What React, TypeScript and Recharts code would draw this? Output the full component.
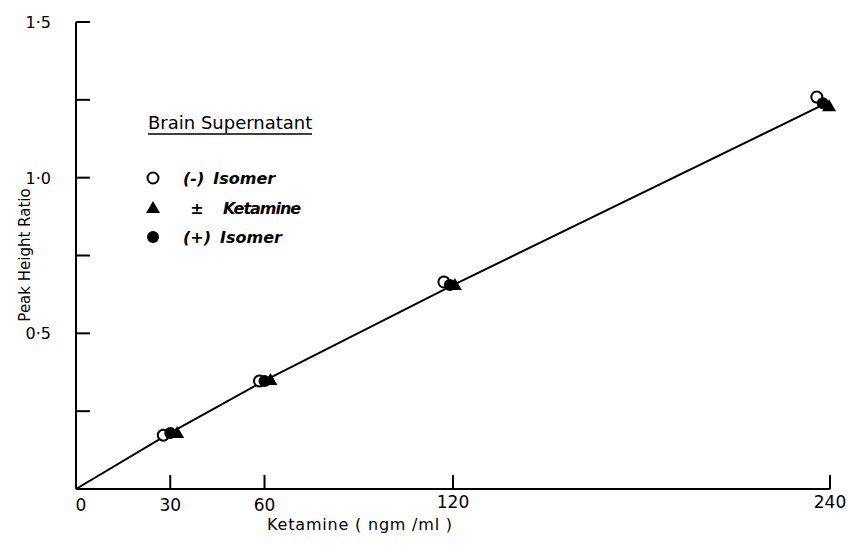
import React from 'react';
import { ScatterChart, Scatter, XAxis, YAxis, Legend } from 'recharts';

// ketamine concentration (ngm/ml) vs peak height ratio, one list per isomer
const minusX = [27.8, 58.4, 117.1, 235.8];
const minusY = [0.173, 0.347, 0.665, 1.259];
const racemicX = [32.2, 61.9, 120.6, 239.7];
const racemicY = [0.18, 0.35, 0.655, 1.229];
const plusX = [30.0, 60.0, 119.0, 237.7];
const plusY = [0.18, 0.347, 0.655, 1.239];

// calibration line, read at the origin and at each standard
const fitX = [0, 30, 60, 120, 239];
const fitY = [0, 0.18, 0.348, 0.655, 1.24];

const xTicks = [0, 30, 60, 120, 240];
const xTickLabels = ['0', '30', '60', '120', '240'];
const yTicks = [0, 0.25, 0.5, 0.75, 1.0, 1.25, 1.5];
const yTickLabels = ['', '', '0·5', '', '1·0', '', '1·5'];

const FONT = '"DejaVu Sans", sans-serif';

const toPoints = (xs: number[], ys: number[]) => xs.map((x, i) => ({ x, y: ys[i] }));

const OpenCircle = (p: any) => (
  <circle cx={p.cx} cy={p.cy} r={5.5} fill="#fff" stroke="#000" strokeWidth={2} />
);
const FilledCircle = (p: any) => <circle cx={p.cx} cy={p.cy} r={6} fill="#000" />;
const Triangle = (p: any) => (
  <polygon
    points={`${p.cx},${p.cy - 7} ${p.cx + 7},${p.cy + 5} ${p.cx - 7},${p.cy + 5}`}
    fill="#000"
  />
);
const NoDot = () => <g />;

const YTick = ({ x, y, index }: any) => (
  <g>
    <line x1={x} x2={x + 14} y1={y} y2={y} stroke="#000" strokeWidth={2} />
    <text x={x - 25} y={y + 6} textAnchor="end" fontSize={16} fontFamily={FONT} fill="#000">
      {yTickLabels[index]}
    </text>
  </g>
);

const XTick = ({ x, y, index }: any) => (
  <g>
    <line x1={x} x2={x} y1={y} y2={y - 14} stroke="#000" strokeWidth={2} />
    <text
      x={index === 0 ? x + 5 : x}
      y={y + (index >= 3 ? 19 : 22)}
      textAnchor="middle"
      fontSize={17}
      fontFamily={FONT}
      fill="#000"
    >
      {xTickLabels[index]}
    </text>
  </g>
);

const legendRows = [
  { sign: '(-)', name: 'Isomer', shape: 'open' },
  { sign: '±', name: 'Ketamine', shape: 'tri' },
  { sign: '(+)', name: 'Isomer', shape: 'filled' },
];

const LegendBox = () => (
  <svg width={240} height={160} style={{ overflow: 'visible' }}>
    <text x={8} y={32} fontSize={18} fontWeight={500} fontFamily={FONT} fill="#000">
      Brain Supernatant
    </text>
    <line x1={8} x2={172} y1={37} y2={37} stroke="#000" strokeWidth={1.5} />
    {legendRows.map((r, i) => {
      const cy = [81, 111, 140][i];
      const textProps = {
        fontSize: 16,
        fontStyle: 'italic',
        fontWeight: 'bold',
        fontFamily: FONT,
        fill: '#000',
      };
      return (
        <g key={r.sign}>
          {r.shape === 'open' && <OpenCircle cx={13} cy={cy} />}
          {r.shape === 'tri' && <Triangle cx={13} cy={cy} />}
          {r.shape === 'filled' && <FilledCircle cx={13} cy={cy} />}
          {r.shape === 'tri' ? (
            <>
              <text x={57} y={cy + 6} textAnchor="middle" {...textProps}>
                {r.sign}
              </text>
              <text x={83} y={cy + 6} letterSpacing={-1} {...textProps}>
                {r.name}
              </text>
            </>
          ) : (
            <text x={43} y={cy + 6} {...textProps}>
              {r.sign}
              <tspan dx={9}>{r.name}</tspan>
            </text>
          )}
        </g>
      );
    })}
  </svg>
);

export default function App() {
  return (
    <div style={{ position: 'absolute', left: 0, top: 0, background: '#fff' }}>
      <ScatterChart
        width={853}
        height={552}
        margin={{ top: 22, right: 23, bottom: 33, left: 36 }}
      >
        <XAxis
          type="number"
          dataKey="x"
          domain={[0, 240]}
          ticks={xTicks}
          tick={<XTick />}
          tickSize={0}
          tickMargin={0}
          tickLine={false}
          height={30}
          axisLine={{ stroke: '#000', strokeWidth: 2 }}
          label={{
            content: () => (
              <text
                x={360}
                y={530}
                textAnchor="middle"
                fontSize={16}
                letterSpacing={0.8}
                fontFamily={FONT}
                fill="#000"
              >
                Ketamine ( ngm /ml )
              </text>
            ),
          }}
        />
        <YAxis
          type="number"
          dataKey="y"
          domain={[0, 1.5]}
          ticks={yTicks}
          tick={<YTick />}
          tickSize={0}
          tickMargin={0}
          tickLine={false}
          width={40}
          axisLine={{ stroke: '#000', strokeWidth: 2 }}
          label={{
            content: () => (
              <text
                x={30}
                y={255}
                transform="rotate(-90 30 255)"
                textAnchor="middle"
                fontSize={15}
                fontFamily={FONT}
                fill="#000"
              >
                Peak Height Ratio
              </text>
            ),
          }}
        />
        <Scatter
          data={toPoints(fitX, fitY)}
          line={{ stroke: '#000', strokeWidth: 2 }}
          shape={<NoDot />}
          isAnimationActive={false}
        />
        <Scatter data={toPoints(minusX, minusY)} shape={<OpenCircle />} isAnimationActive={false} />
        <Scatter data={toPoints(plusX, plusY)} shape={<FilledCircle />} isAnimationActive={false} />
        <Scatter data={toPoints(racemicX, racemicY)} shape={<Triangle />} isAnimationActive={false} />
        <Legend
          layout="vertical"
          align="center"
          verticalAlign="middle"
          content={<LegendBox />}
          wrapperStyle={{ left: 140, top: 97, width: 240, height: 160 }}
        />
      </ScatterChart>
    </div>
  );
}
